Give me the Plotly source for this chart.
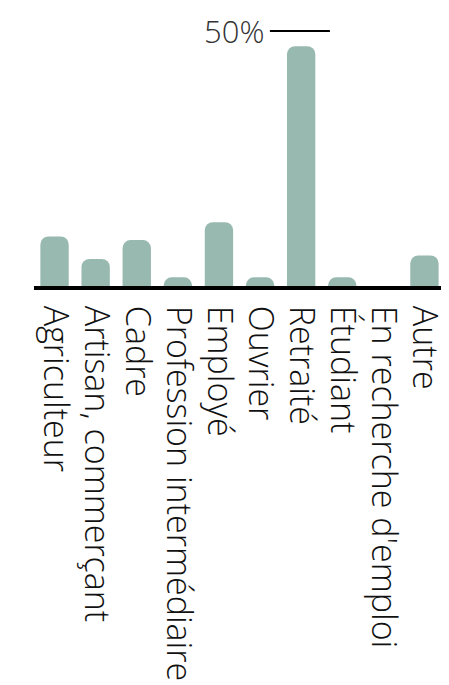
import plotly.graph_objects as go

categories = ["Agriculteur", "Artisan, commerçant", "Cadre", "Profession intermédiaire",
              "Employé", "Ouvrier", "Retraité", "Étudiant", "En recherche d'emploi", "Autre"]
values = [9.7, 5.3, 9.0, 1.7, 12.5, 1.7, 47.0, 1.7, 0.0, 6.0]

ref_value = 50
ref_label = "50%"

fig = go.Figure()

fig.add_trace(go.Bar(
    x=categories,
    y=values,
    marker=dict(color="#98b9b0", line=dict(width=0)),
    width=0.69,
    hoverinfo="x+y",
))

# ====== 50% reference ======
fig.add_shape(
    type="line", xref="x", yref="y",
    x0=5.24, x1=6.7, y0=ref_value, y1=ref_value,
    line=dict(color="black", width=2),
)
fig.add_annotation(
    x=5.24, y=ref_value, xref="x", yref="y",
    text=ref_label, showarrow=False,
    xanchor="right", yanchor="middle", xshift=-4,
    font=dict(family="Open Sans", size=31, color="#333333", weight=300),
)

# page body adds an 8px offset, margins compensate for it
fig.update_layout(
    width=441, height=677,
    margin=dict(l=26, r=4, t=0, b=399, autoexpand=False),
    plot_bgcolor="white", paper_bgcolor="white",
    barcornerradius=8,
    showlegend=False,
)
fig.update_xaxes(
    type="category", range=[-0.5, 9.5], automargin=False,
    showline=True, linecolor="black", linewidth=4,
    showgrid=False, ticks="",
    tickangle=90, ticklabelstandoff=9,
    tickfont=dict(family="Open Sans", size=34, color="#111111", weight=300),
)
fig.update_yaxes(
    range=[0, 54.5], visible=False, showgrid=False, zeroline=False,
)

fig.write_html("out.html")
